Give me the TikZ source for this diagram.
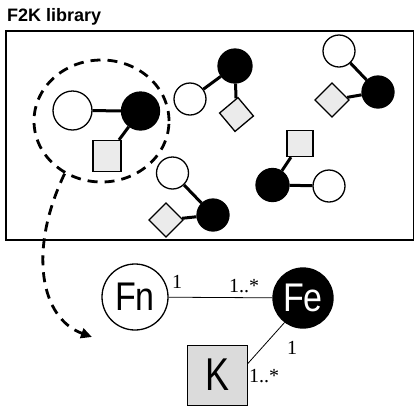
\documentclass[tikz,border=0pt]{standalone}
\usepackage{fontspec}
\setmainfont{Liberation Serif}
\newfontfamily\bigfont[FakeStretch=0.85]{Liberation Sans}
\newfontfamily\kfont[FakeStretch=0.78]{Liberation Sans}
\newfontfamily\titlefont{Liberation Sans}
\usetikzlibrary{arrows.meta,shapes.geometric,backgrounds}
\begin{document}
\begin{tikzpicture}[x=1pt,y=-1pt,
  wcirc/.style={circle,draw,line width=1.3pt,fill=white,minimum size=#1,inner sep=0pt},
  bcirc/.style={circle,draw,line width=1.3pt,fill=black,minimum size=#1,inner sep=0pt},
  sqbox/.style={rectangle,draw,line width=1.3pt,fill=gray!16,minimum size=#1,inner sep=0pt},
  bond/.style={line width=3pt},
  dashline/.style={line width=2.8pt,dash pattern=on 10pt off 7pt},
  assoc/.style={line width=0.8pt},
  mult/.style={font=\fontsize{20}{20}\selectfont,inner sep=0pt,anchor=base west}]
\useasboundingbox (0,0) rectangle (415,408);
% title and library frame
\node[font=\titlefont\bfseries\fontsize{18}{18}\selectfont,anchor=base west,inner sep=0pt] (title) at (7,21) {F2K library};
\draw[line width=1.2pt] (6,31) rectangle (413.5,240);
% molecule 1
\node[wcirc=39pt] (w1) at (72.5,110.5) {};
\node[bcirc=38pt] (b1) at (140.5,111) {};
\node[sqbox=28pt,minimum height=31pt] (s1) at (107,156) {};
% molecule 2
\node[wcirc=32pt] (w2) at (190,99) {};
\node[bcirc=34pt] (b2) at (235,66) {};
\node[sqbox=24pt,rotate=40] (s2) at (236.5,114.5) {};
% molecule 3
\node[wcirc=32pt] (w3) at (339,51) {};
\node[bcirc=32pt] (b3) at (378,92) {};
\node[sqbox=24pt,rotate=45] (s3) at (332,100) {};
% molecule 4
\node[sqbox=26pt] (s4) at (300,143.5) {};
\node[bcirc=33pt] (b4) at (272.5,185) {};
\node[wcirc=32pt] (w4) at (329,186) {};
% molecule 5
\node[wcirc=32pt] (w5) at (172.5,173) {};
\node[bcirc=32pt] (b5) at (213,215) {};
\node[sqbox=24pt,rotate=45] (s5) at (166,220) {};
\begin{scope}[on background layer]
\draw[bond] (w1) -- (b1);
\draw[bond] (b1) -- (s1);
\draw[bond] (w2) -- (b2);
\draw[bond] (b2) -- (s2);
\draw[bond] (w3) -- (b3);
\draw[bond] (s3) -- (b3);
\draw[bond] (s4) -- (b4);
\draw[bond] (b4) -- (w4);
\draw[bond] (w5) -- (b5);
\draw[bond] (s5) -- (b5);
\end{scope}
% selection ellipse and arrow
\node[ellipse,draw,dashline,minimum width=135pt,minimum height=122pt,inner sep=0pt] (grp) at (101.5,121) {};
\coordinate (tailend) at (92,337);
\draw[dashline,-{Triangle[length=11pt,width=10pt]}] (grp.235) .. controls (28,250) and (40,318) .. (tailend);
% meta model
\node[wcirc=66pt,font=\bigfont\fontsize{40}{40}\selectfont] (Fn) at (135,297) {Fn};
\node[bcirc=60pt,text=white,font=\bigfont\fontsize{40}{40}\selectfont] (Fe) at (303,298) {Fe};
\node[sqbox=60pt,line width=1pt,fill=gray!28,font=\kfont\fontsize{46}{46}\selectfont] (K) at (217,375) {K};
\draw[assoc] (Fn) -- (Fe);
\draw[assoc] (Fe.233) -- (K.20);
\node[mult] (m1) at (172,288) {1};
\node[mult] (m2) at (229,292) {1..*};
\node[mult] (m3) at (287,354) {1};
\node[mult] (m4) at (249,382) {1..*};
\end{tikzpicture}
\end{document}
